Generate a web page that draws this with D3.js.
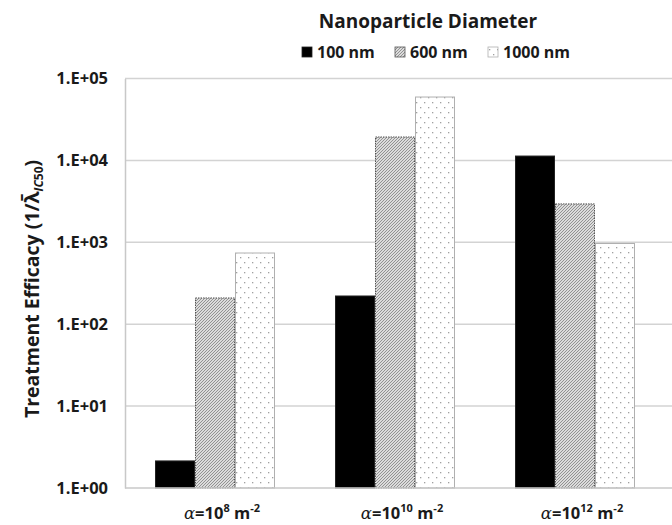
<!DOCTYPE html>
<html>
<head>
<meta charset="utf-8">
<script src="https://cdn.jsdelivr.net/npm/d3@7"></script>
<style>
  html, body { margin: 0; padding: 0; background: #fff; }
  svg { display: block; font-family: "Open Sans", Lato, sans-serif; }
</style>
</head>
<body>
<svg id="chart" width="672" height="525"></svg>
<script>
// ---- data ----
const categories = ["1e8", "1e10", "1e12"];
const categoryExponents = ["8", "10", "12"];
const seriesNames = ["100 nm", "600 nm", "1000 nm"];
const values100 = [2.14, 221, 11300];
const values600 = [209, 19300, 2940];
const values1000 = [740, 59400, 967];
const tickValues = [1, 10, 100, 1000, 10000, 100000];
const tickLabels = ["1.E+00", "1.E+01", "1.E+02", "1.E+03", "1.E+04", "1.E+05"];

const seriesValues = [values100, values600, values1000];

const svg = d3.select("#chart");
const defs = svg.append("defs");

// hatch pattern
const hatch = defs.append("pattern").attr("id", "hatch")
  .attr("patternUnits", "userSpaceOnUse").attr("width", 3).attr("height", 3);
hatch.append("rect").attr("width", 3).attr("height", 3).attr("fill", "#dcdcdc");
hatch.append("path").attr("d", "M-1,1 l2,-2 M0,3 l3,-3 M2,4 l2,-2")
  .attr("stroke", "#8a8a8a").attr("stroke-width", 0.9);

// dots pattern
const dots = defs.append("pattern").attr("id", "dots")
  .attr("patternUnits", "userSpaceOnUse").attr("width", 8).attr("height", 10);
dots.append("rect").attr("width", 8).attr("height", 10).attr("fill", "#fff");
dots.append("rect").attr("x", 1).attr("y", 2).attr("width", 1.3).attr("height", 1.3).attr("fill", "#a0a0a0");
dots.append("rect").attr("x", 5).attr("y", 7).attr("width", 1.3).attr("height", 1.3).attr("fill", "#a0a0a0");

const fills = ["#000", "url(#hatch)", "url(#dots)"];
const strokes = ["#222", "#555", "#b0b0b0"];

// scales
const y = d3.scaleLog().domain([1, 100000]).range([488, 78.5]);
const x0 = d3.scaleBand().domain(categories).range([125, 665])
  .paddingInner(1 / 3).paddingOuter(1 / 6);
const x1 = d3.scaleBand().domain(d3.range(seriesNames.length)).range([0, x0.bandwidth()]);

// gridlines
svg.append("g").selectAll("line").data(tickValues.slice(1)).join("line")
  .attr("x1", 125).attr("x2", 672)
  .attr("y1", d => y(d)).attr("y2", d => y(d))
  .attr("stroke", "#d3d3d3").attr("stroke-width", 1.5);

// y axis
const yAxis = d3.axisLeft(y).tickValues(tickValues)
  .tickFormat((d, i) => tickLabels[i]).tickSize(0).tickPadding(17);
const gy = svg.append("g").attr("transform", "translate(125,0)").call(yAxis);
gy.select(".domain").attr("stroke", "#c8c8c8").attr("stroke-width", 1.5);
gy.selectAll("text").attr("font-size", 16.5).attr("font-weight", "bold")
  .attr("fill", "#1a1a1a").attr("font-family", "'Open Sans', sans-serif");

// bars
const groups = svg.append("g").selectAll("g").data(categories).join("g")
  .attr("transform", d => `translate(${x0(d)},0)`);
groups.selectAll("rect")
  .data((d, ci) => seriesValues.map((vals, si) => ({ si, v: vals[ci] })))
  .join("rect")
  .attr("x", d => x1(d.si) + 0.5)
  .attr("width", x1.bandwidth() - 1)
  .attr("y", d => y(d.v))
  .attr("height", d => y(1) - y(d.v))
  .attr("fill", d => fills[d.si])
  .attr("stroke", d => strokes[d.si])
  .attr("stroke-width", 1)
  .attr("stroke-dasharray", d => d.si === 1 ? "1.5,1" : null);

// x axis line
svg.append("line").attr("x1", 125).attr("x2", 672).attr("y1", y(1)).attr("y2", y(1))
  .attr("stroke", "#c8c8c8").attr("stroke-width", 1.5);

// x labels
const xl = svg.append("g").selectAll("text").data(categories).join("text")
  .attr("x", d => x0(d) + x0.bandwidth() / 2 + 7)
  .attr("y", 519)
  .attr("text-anchor", "middle")
  .attr("font-size", 16.5).attr("font-weight", "bold").attr("fill", "#1a1a1a");
xl.append("tspan").attr("font-style", "italic").attr("font-weight", "normal")
  .attr("font-family", "'DejaVu Serif', serif").text("α");
xl.append("tspan").text("=10");
xl.append("tspan").attr("font-size", 11).attr("dy", -7).text((d, i) => categoryExponents[i]);
xl.append("tspan").attr("dy", 7).text(" m");
xl.append("tspan").attr("font-size", 11).attr("dy", -7).text("-2");

// y title
const yt = svg.append("text")
  .attr("transform", "translate(39,289) rotate(-90)")
  .attr("text-anchor", "middle")
  .attr("font-size", 19.5).attr("font-weight", "bold").attr("fill", "#1a1a1a");
yt.append("tspan").text("Treatment Efficacy (1/λ\u0304");
yt.append("tspan").attr("font-size", 12).attr("dy", 4).attr("font-style", "italic").text("IC");
yt.append("tspan").attr("font-size", 12).text("50");
yt.append("tspan").attr("dy", -4).text(")");

// legend title
svg.append("text").attr("x", 428).attr("y", 28).attr("text-anchor", "middle")
  .attr("font-size", 19).attr("font-weight", "bold").attr("fill", "#1a1a1a")
  .text("Nanoparticle Diameter");

// legend
const legendX = [302, 395, 488];
const lg = svg.append("g").selectAll("g").data(seriesNames).join("g")
  .attr("transform", (d, i) => `translate(${legendX[i]},47)`);
lg.append("rect").attr("width", 10).attr("height", 10)
  .attr("fill", (d, i) => fills[i]).attr("stroke", (d, i) => strokes[i]).attr("stroke-width", 0.8);
lg.append("text").attr("x", 15).attr("y", 11)
  .attr("font-size", 16).attr("font-weight", "bold").attr("fill", "#1a1a1a")
  .text(d => d);
</script>
</body>
</html>
